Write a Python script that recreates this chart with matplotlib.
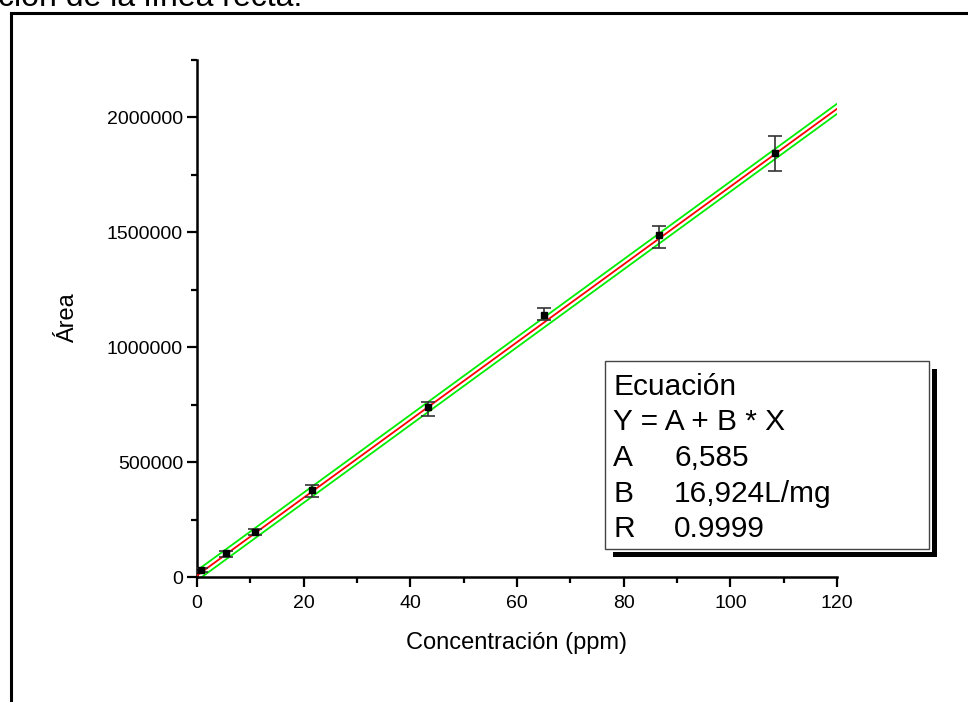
import numpy as np
import matplotlib.pyplot as plt
from matplotlib.patches import Rectangle
from matplotlib.lines import Line2D
from matplotlib.ticker import MultipleLocator, FormatStrFormatter

plt.rcParams['font.family'] = ['Liberation Sans', 'DejaVu Sans']

# Calibration data
conc = [0.8, 5.4, 10.8, 21.6, 43.3, 65.0, 86.7, 108.3]
area = [30000, 103000, 196000, 377000, 740000, 1142000, 1490000, 1845000]
err_low = [10000, 15000, 15000, 30000, 40000, 25000, 60000, 80000]
err_high = [8000, 12000, 15000, 25000, 20000, 30000, 38000, 75000]

# Linear fit parameters and band half width
fit_a = 6585
fit_b = 16924
band = 22000

legend_rows = [("Ecuación", ""), ("Y = A + B * X", ""), ("A", "6,585"),
               ("B", "16,924L/mg"), ("R", "0.9999")]

W, H = 968, 702
fig = plt.figure(figsize=(W / 100, H / 100), dpi=100)


def fx(px):
    return px / W


def fy(py):
    return 1 - py / H


# page text and frame around the figure
fig.text(fx(-2), fy(6), "ción de la línea recta.", fontsize=23, va='baseline', ha='left')
fig.add_artist(Line2D([fx(11), fx(11)], [fy(13), fy(710)], color='black', lw=2.2))
fig.add_artist(Line2D([fx(11), fx(975)], [fy(13), fy(13)], color='black', lw=2.2))

ax = fig.add_axes([fx(197), fy(577), fx(837) - fx(197), fy(60) - fy(577)])

xs = np.linspace(0, 120, 200)
fit = fit_a + fit_b * xs
ax.plot(xs, fit + band, color='#00ee00', lw=1.3, zorder=2)
ax.plot(xs, fit - band, color='#00ee00', lw=1.3, zorder=2)
ax.plot(xs, fit, color='red', lw=1.3, zorder=3)
ax.errorbar(conc, area, yerr=[err_low, err_high], fmt='s', color='black',
            ms=5, ecolor='#333333', elinewidth=1.2, capsize=5, capthick=1.2, zorder=4)

ax.set_xlim(0, 120)
ax.set_ylim(0, 2250000)
ax.xaxis.set_major_locator(MultipleLocator(20))
ax.xaxis.set_minor_locator(MultipleLocator(10))
ax.yaxis.set_major_locator(MultipleLocator(500000))
ax.yaxis.set_minor_locator(MultipleLocator(250000))
ax.yaxis.set_major_formatter(FormatStrFormatter('%d'))
ax.spines['top'].set_visible(False)
ax.spines['right'].set_visible(False)
for s in ['left', 'bottom']:
    ax.spines[s].set_linewidth(1.8)
ax.tick_params(which='major', length=7, width=1.6, labelsize=14)
ax.tick_params(axis='x', which='major', pad=6)
ax.tick_params(axis='y', which='major', pad=3)
ax.tick_params(which='minor', length=4, width=1.6)
ax.set_xlabel("Concentración (ppm)", fontsize=17, labelpad=14)
ax.set_ylabel("Área", fontsize=17, labelpad=20)

# legend box with shadow
fig.add_artist(Rectangle((fx(613), fy(557)), fx(937) - fx(613), fy(369) - fy(557),
                         transform=fig.transFigure, facecolor='black', edgecolor='none'))
fig.add_artist(Rectangle((fx(605), fy(552)), fx(932) - fx(605), fy(361) - fy(552),
                         transform=fig.transFigure, facecolor='white', edgecolor='none'))
fig.add_artist(Rectangle((fx(605), fy(549)), fx(929) - fx(605), fy(361) - fy(549),
                         transform=fig.transFigure, facecolor='white', edgecolor='#444444', lw=1))
for i, (k, v) in enumerate(legend_rows):
    y = fy(387 + 35.5 * i)
    fig.text(fx(613), y, k, fontsize=21.5, va='center', ha='left')
    if v:
        fig.text(fx(674), y, v, fontsize=21.5, va='center', ha='left')

fig.savefig("out.png", dpi=100)
